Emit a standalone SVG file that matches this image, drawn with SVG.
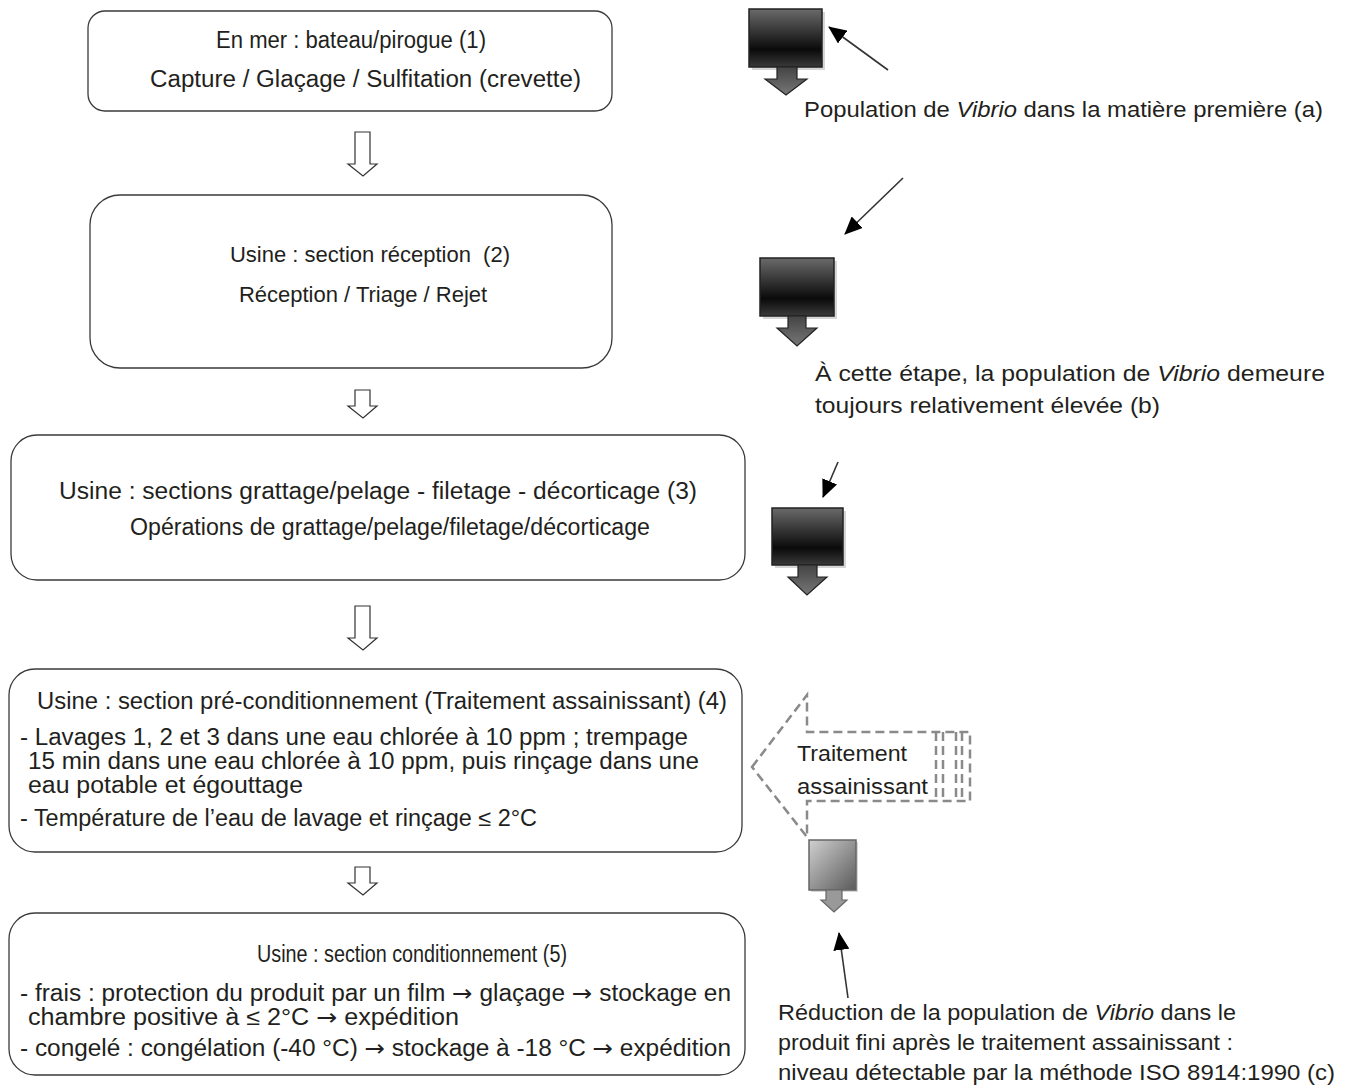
<svg xmlns="http://www.w3.org/2000/svg" width="1349" height="1087" viewBox="0 0 1349 1087">
<style>
.box{fill:#fff;stroke:#3a3a3a;stroke-width:1.3}
.t{font-family:"Liberation Sans",Arial,sans-serif;font-size:22px;fill:#231f20}
.b{font-family:"Liberation Sans",Arial,sans-serif;font-size:23px;fill:#231f20}
.n{font-family:"Liberation Sans Narrow","Liberation Sans",Arial,sans-serif;font-size:23px;fill:#231f20}
.ar{font-family:"DejaVu Sans",sans-serif}
.c{text-anchor:middle}
.hollow{fill:#fff;stroke:#333;stroke-width:1.2}
.thin{stroke:#333;stroke-width:1.6;fill:none;marker-end:url(#ah)}
.dash{fill:none;stroke:#8a8a8a;stroke-width:2.5;stroke-dasharray:9,5}
.shadow{fill:#bbb;opacity:0.6}
</style>
<defs>
<marker id="ah" markerUnits="userSpaceOnUse" markerWidth="20" markerHeight="16" refX="17" refY="8" orient="auto">
<path d="M0,0 L18,8 L0,16 Z" fill="#000"/>
</marker>
<linearGradient id="dk" x1="0" y1="0" x2="0" y2="1">
<stop offset="0" stop-color="#6a6a6a"/>
<stop offset="0.7" stop-color="#0a0a0a"/>
<stop offset="1" stop-color="#3a3a3a"/>
</linearGradient>
<linearGradient id="dka" x1="0" y1="0" x2="0" y2="1">
<stop offset="0" stop-color="#444"/>
<stop offset="1" stop-color="#777"/>
</linearGradient>
<linearGradient id="gr" x1="0" y1="0" x2="1" y2="1">
<stop offset="0" stop-color="#d0d0d0"/>
<stop offset="1" stop-color="#5a5a5a"/>
</linearGradient>
</defs>

<g id="node1">
<rect class="box" x="88" y="11" width="524" height="100" rx="17"/>
<text class="b" x="216" y="48" textLength="270" lengthAdjust="spacingAndGlyphs">En mer : bateau/pirogue (1)</text>
<text class="b" x="150" y="87" textLength="431" lengthAdjust="spacingAndGlyphs">Capture / Glaçage / Sulfitation (crevette)</text>
</g>
<g id="node2">
<rect class="box" x="90" y="195" width="522" height="173" rx="30"/>
<text class="t c" x="370" y="262" xml:space="preserve">Usine : section réception  (2)</text>
<text class="t c" x="363" y="302">Réception / Triage / Rejet</text>
</g>
<g id="node3">
<rect class="box" x="11" y="435" width="734" height="145" rx="26"/>
<text class="b" x="59" y="499" textLength="638" lengthAdjust="spacingAndGlyphs">Usine : sections grattage/pelage - filetage - décorticage (3)</text>
<text class="b" x="130" y="535" textLength="520" lengthAdjust="spacingAndGlyphs">Opérations de grattage/pelage/filetage/décorticage</text>
</g>
<g id="node4">
<rect class="box" x="9" y="669" width="733" height="183" rx="26"/>
<text class="n" x="37" y="709" textLength="690" lengthAdjust="spacingAndGlyphs">Usine : section pré-conditionnement (Traitement assainissant) (4)</text>
<text class="n" x="20" y="745" textLength="668" lengthAdjust="spacingAndGlyphs">- Lavages 1, 2 et 3 dans une eau chlorée à 10 ppm ; trempage</text>
<text class="n" x="28" y="769" textLength="671" lengthAdjust="spacingAndGlyphs">15 min dans une eau chlorée à 10 ppm, puis rinçage dans une</text>
<text class="n" x="28" y="793" textLength="275" lengthAdjust="spacingAndGlyphs">eau potable et égouttage</text>
<text class="n" x="20" y="826" textLength="517" lengthAdjust="spacingAndGlyphs">- Température de l’eau de lavage et rinçage ≤ 2°C</text>
</g>
<g id="node5">
<rect class="box" x="9" y="913" width="736" height="162" rx="26"/>
<text class="n" x="257" y="962" textLength="310" lengthAdjust="spacingAndGlyphs">Usine : section conditionnement (5)</text>
<text class="n" x="20" y="1001" textLength="711" lengthAdjust="spacingAndGlyphs">- frais : protection du produit par un film <tspan class="ar">→</tspan> glaçage <tspan class="ar">→</tspan> stockage en</text>
<text class="n" x="28" y="1025" textLength="431" lengthAdjust="spacingAndGlyphs">chambre positive à ≤ 2°C <tspan class="ar">→</tspan> expédition</text>
<text class="n" x="20" y="1056" textLength="711" lengthAdjust="spacingAndGlyphs">- congelé : congélation (-40 °C) <tspan class="ar">→</tspan> stockage à -18 °C <tspan class="ar">→</tspan> expédition</text>
</g>

<g id="indicatorA">
<rect class="shadow" x="752" y="12" width="73" height="58"/>
<rect x="749" y="9" width="73" height="58" fill="url(#dk)" stroke="#222" stroke-width="1.5"/>
<path d="M777,67 V79 H765 L786,95 L807,79 H797 V67 Z" fill="url(#dka)" stroke="#222" stroke-width="1.2"/>
</g>
<g id="indicatorB">
<rect class="shadow" x="763" y="261" width="74" height="58"/>
<rect x="760" y="258" width="74" height="58" fill="url(#dk)" stroke="#222" stroke-width="1.5"/>
<path d="M788,316 V328 H777 L797,346 L817,328 H806 V316 Z" fill="url(#dka)" stroke="#222" stroke-width="1.2"/>
</g>
<g id="indicatorC">
<rect class="shadow" x="775" y="511" width="71" height="57"/>
<rect x="772" y="508" width="71" height="57" fill="url(#dk)" stroke="#222" stroke-width="1.5"/>
<path d="M798,565 V577 H788 L807,595 L827,577 H817 V565 Z" fill="url(#dka)" stroke="#222" stroke-width="1.2"/>
</g>
<g id="indicatorD">
<rect class="shadow" x="811" y="842" width="47" height="50"/>
<rect x="809" y="840" width="47" height="50" fill="url(#gr)" stroke="#666" stroke-width="1.5"/>
<path d="M826,890 V900 H821 L834,912 L847,900 H842 V890 Z" fill="#999" stroke="#666" stroke-width="1.2"/>
</g>

<g id="treatment">
<path class="dash" d="M752,767 L807,695 V732 H970 V801 H807 V837 Z"/>
<path class="dash" d="M936,732 V801 M943,732 V801 M956,732 V801 M962,732 V801"/>
<text class="t" x="797" y="761" font-size="23" textLength="110" lengthAdjust="spacingAndGlyphs">Traitement</text>
<text class="t" x="797" y="794" font-size="23" textLength="131" lengthAdjust="spacingAndGlyphs">assainissant</text>
</g>

<g id="labels">
<text class="t" x="804" y="117" textLength="519" lengthAdjust="spacingAndGlyphs">Population de <tspan font-style="italic">Vibrio</tspan> dans la matière première (a)</text>
<text class="t" x="815" y="381" textLength="510" lengthAdjust="spacingAndGlyphs">À cette étape, la population de <tspan font-style="italic">Vibrio</tspan> demeure</text>
<text class="t" x="815" y="413" textLength="345" lengthAdjust="spacingAndGlyphs">toujours relativement élevée (b)</text>
<text class="t" x="778" y="1020" textLength="458" lengthAdjust="spacingAndGlyphs">Réduction de la population de <tspan font-style="italic">Vibrio</tspan> dans le</text>
<text class="t" x="778" y="1050" textLength="455" lengthAdjust="spacingAndGlyphs">produit fini après le traitement assainissant :</text>
<text class="t" x="778" y="1080" textLength="557" lengthAdjust="spacingAndGlyphs">niveau détectable par la méthode ISO 8914:1990 (c)</text>
</g>

<g id="connectors">
<path class="hollow" d="M355,132 H370 V164 H377 L363,176 L348,164 H355 Z"/>
<path class="hollow" d="M355,390 H370 V406 H377 L363,418 L348,406 H355 Z"/>
<path class="hollow" d="M355,606 H370 V638 H377 L363,650 L348,638 H355 Z"/>
<path class="hollow" d="M355,867 H370 V883 H377 L363,895 L348,883 H355 Z"/>
<line class="thin" x1="888" y1="70" x2="829" y2="27"/>
<line class="thin" x1="903" y1="178" x2="845" y2="234"/>
<line class="thin" x1="838" y1="462" x2="823" y2="497"/>
<line class="thin" x1="848" y1="998" x2="839" y2="933"/>
</g>
</svg>
